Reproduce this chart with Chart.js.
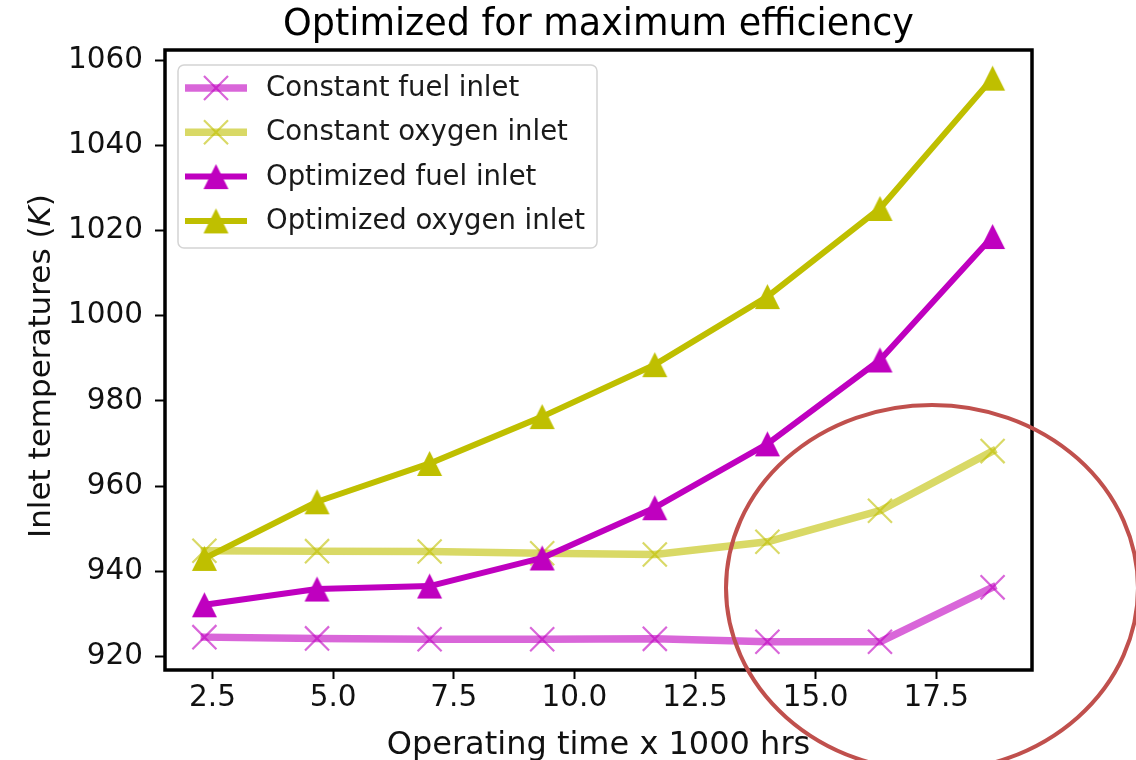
<!DOCTYPE html>
<html>
<head>
<meta charset="utf-8">
<title>Inlet temperatures</title>
<script src="https://cdn.jsdelivr.net/npm/chart.js@4.4.0/dist/chart.umd.min.js"></script>
<style>
    html, body { margin: 0; padding: 0; background: #fff; }
    #wrap { width: 1136px; height: 760px; }
</style>
</head>
<body>
<div id="wrap"><canvas id="chart" width="1136" height="760"></canvas></div>
<script>
// operating time (x 1000 hrs) and inlet temperatures in K
var hours = [2.333, 4.667, 7.0, 9.333, 11.667, 14.0, 16.333, 18.667];
var constFuel = [924.5, 924.2, 924.0, 924.0, 924.1, 923.4, 923.4, 936.2];
var constOxygen = [944.8, 944.7, 944.6, 944.2, 943.9, 946.9, 954.2, 968.2];
var optFuel = [932.1, 935.8, 936.5, 943.1, 954.9, 969.9, 989.6, 1018.6];
var optOxygen = [943.0, 956.3, 965.3, 976.3, 988.5, 1004.5, 1025.2, 1055.8];
var seriesNames = ['Constant fuel inlet', 'Constant oxygen inlet', 'Optimized fuel inlet', 'Optimized oxygen inlet'];
var xTicks = [2.5, 5.0, 7.5, 10.0, 12.5, 15.0, 17.5];
var yTicks = [920, 940, 960, 980, 1000, 1020, 1040, 1060];

var MAGENTA = 'rgb(191,0,191)';
var OLIVE = 'rgb(191,191,0)';
var MAGENTA_LIGHT = 'rgba(191,0,191,0.6)';
var OLIVE_LIGHT = 'rgba(191,191,0,0.6)';
var FONT = '"DejaVu Sans", "Liberation Sans", sans-serif';

function triangleMarker(color, size){
    var c = document.createElement('canvas');
    c.width = size + 2;
    c.height = size + 2;
    var g = c.getContext('2d');
    g.fillStyle = color;
    g.beginPath();
    g.moveTo(c.width / 2, 1);
    g.lineTo(1, size + 1);
    g.lineTo(size + 1, size + 1);
    g.closePath();
    g.fill();
    return c;
}

function toPoints(values){
    var pts = [];
    for(var i = 0; i < values.length; i++){
        pts.push({x: hours[i], y: values[i]});
    }
    return pts;
}

// 5% margins around the data, like the default autoscale
function padRange(arrays){
    var all = [].concat.apply([], arrays);
    var lo = Math.min.apply(null, all);
    var hi = Math.max.apply(null, all);
    var m = (hi - lo) * 0.05;
    return [lo - m, hi + m];
}

var xRange = padRange([hours]);
var yRange = padRange([constFuel, constOxygen, optFuel, optOxygen]);

function crossSeries(label, values, color, order){
    return {
        label: label,
        data: toPoints(values),
        borderColor: color,
        backgroundColor: color,
        borderWidth: 7.5,
        borderCapStyle: 'square',
        borderJoinStyle: 'round',
        pointStyle: 'crossRot',
        pointRadius: 17,
        pointBorderWidth: 2.2,
        pointBorderColor: color,
        pointBackgroundColor: color,
        order: order
    };
}

function triangleSeries(label, values, color, order){
    return {
        label: label,
        data: toPoints(values),
        borderColor: color,
        backgroundColor: color,
        borderWidth: 6,
        borderCapStyle: 'square',
        borderJoinStyle: 'round',
        pointStyle: triangleMarker(color, 25),
        pointRadius: 12,
        order: order
    };
}

var frameAndLegend = {
    id: 'frameAndLegend',
    afterDatasetsDraw: function(chart){
        var ctx = chart.ctx;
        var area = chart.chartArea;

        ctx.save();
        ctx.strokeStyle = '#000';
        ctx.lineWidth = 3.5;
        ctx.strokeRect(area.left, area.top, area.right - area.left, area.bottom - area.top);

        // legend box in the upper left corner of the axes
        var bx = area.left + 13, by = area.top + 15, bw = 419, bh = 183;
        ctx.beginPath();
        ctx.roundRect(bx, by, bw, bh, 6);
        ctx.fillStyle = 'rgba(255,255,255,0.8)';
        ctx.fill();
        ctx.strokeStyle = '#d4d4d4';
        ctx.lineWidth = 1.5;
        ctx.stroke();

        ctx.font = '27.5px ' + FONT;
        ctx.textBaseline = 'middle';
        ctx.textAlign = 'left';
        chart.data.datasets.forEach(function(ds, i){
            var ry = by + 23 + i * 44.3;
            var hx = bx + 38;
            ctx.beginPath();
            ctx.moveTo(bx + 7, ry);
            ctx.lineTo(bx + 69, ry);
            ctx.strokeStyle = ds.borderColor;
            ctx.lineWidth = ds.borderWidth;
            ctx.lineCap = 'butt';
            ctx.stroke();
            if(typeof ds.pointStyle === 'string'){
                var d = ds.pointRadius * Math.SQRT1_2;
                ctx.beginPath();
                ctx.moveTo(hx - d, ry - d);
                ctx.lineTo(hx + d, ry + d);
                ctx.moveTo(hx + d, ry - d);
                ctx.lineTo(hx - d, ry + d);
                ctx.strokeStyle = ds.pointBorderColor;
                ctx.lineWidth = ds.pointBorderWidth;
                ctx.stroke();
            } else {
                var img = ds.pointStyle;
                ctx.drawImage(img, hx - img.width / 2, ry - img.height / 2);
            }
            ctx.fillStyle = '#1a1a1a';
            ctx.fillText(ds.label, bx + 88, ry + 1);
        });

        // y axis title, with the unit in italics
        var partA = 'Inlet temperatures (', partK = 'K', partB = ')';
        var upright = '31px ' + FONT, slanted = 'italic 31px ' + FONT;
        ctx.font = upright;
        var wA = ctx.measureText(partA).width, wB = ctx.measureText(partB).width;
        ctx.font = slanted;
        var wK = ctx.measureText(partK).width;
        var total = wA + wK + wB;
        ctx.translate(50, (area.top + area.bottom) / 2 + 6);
        ctx.rotate(-Math.PI / 2);
        ctx.textBaseline = 'alphabetic';
        ctx.fillStyle = '#111';
        var sx = -total / 2;
        ctx.font = upright;
        ctx.fillText(partA, sx, 0);
        ctx.font = slanted;
        ctx.fillText(partK, sx + wA, 0);
        ctx.font = upright;
        ctx.fillText(partB, sx + wA + wK, 0);
        ctx.restore();
    }
};

var ellipseMark = {
    id: 'ellipseMark',
    afterDraw: function(chart){
        var ctx = chart.ctx;
        ctx.save();
        ctx.beginPath();
        ctx.ellipse(932, 588, 206, 183, 0, 0, Math.PI * 2);
        ctx.strokeStyle = '#c0504d';
        ctx.lineWidth = 4;
        ctx.stroke();
        ctx.restore();
    }
};

var config = {
    type: 'line',
    data: {
        datasets: [
            crossSeries(seriesNames[0], constFuel, MAGENTA_LIGHT, 3),
            crossSeries(seriesNames[1], constOxygen, OLIVE_LIGHT, 2),
            triangleSeries(seriesNames[2], optFuel, MAGENTA, 1),
            triangleSeries(seriesNames[3], optOxygen, OLIVE, 0)
        ]
    },
    options: {
        responsive: false,
        animation: false,
        devicePixelRatio: 1,
        layout: {padding: {left: 0, right: 104, top: 0, bottom: 0}},
        plugins: {
            legend: {display: false},
            tooltip: {enabled: false},
            title: {
                display: true,
                text: 'Optimized for maximum efficiency',
                fullSize: false,
                color: '#000',
                font: {family: FONT, size: 36.5, weight: 'normal', lineHeight: 1.2},
                padding: {top: 4, bottom: 2.2}
            }
        },
        scales: {
            x: {
                type: 'linear',
                min: xRange[0],
                max: xRange[1],
                afterBuildTicks: function(scale){
                    scale.ticks = xTicks.map(function(v){ return {value: v}; });
                },
                afterFit: function(scale){ scale.height = 90; },
                grid: {drawOnChartArea: false, drawTicks: true, tickLength: 9, tickWidth: 2, tickColor: '#000'},
                border: {display: false},
                ticks: {
                    autoSkip: false,
                    maxRotation: 0,
                    padding: 2,
                    color: '#111',
                    font: {family: FONT, size: 29.5},
                    callback: function(v){ return v.toFixed(1); }
                },
                title: {
                    display: true,
                    text: 'Operating time x 1000 hrs',
                    color: '#111',
                    font: {family: FONT, size: 32, lineHeight: 0.9},
                    padding: {top: 0, bottom: 0}
                }
            },
            y: {
                type: 'linear',
                min: yRange[0],
                max: yRange[1],
                afterBuildTicks: function(scale){
                    scale.ticks = yTicks.map(function(v){ return {value: v}; });
                },
                afterFit: function(scale){ scale.width = 165; },
                grid: {drawOnChartArea: false, drawTicks: true, tickLength: 10, tickWidth: 2, tickColor: '#000'},
                border: {display: false},
                ticks: {
                    autoSkip: false,
                    padding: 12,
                    color: '#111',
                    font: {family: FONT, size: 29.5},
                    callback: function(v){ return String(v); }
                }
            }
        }
    },
    plugins: [frameAndLegend, ellipseMark]
};

var chart = new Chart(document.getElementById('chart').getContext('2d'), config);
</script>
</body>
</html>
